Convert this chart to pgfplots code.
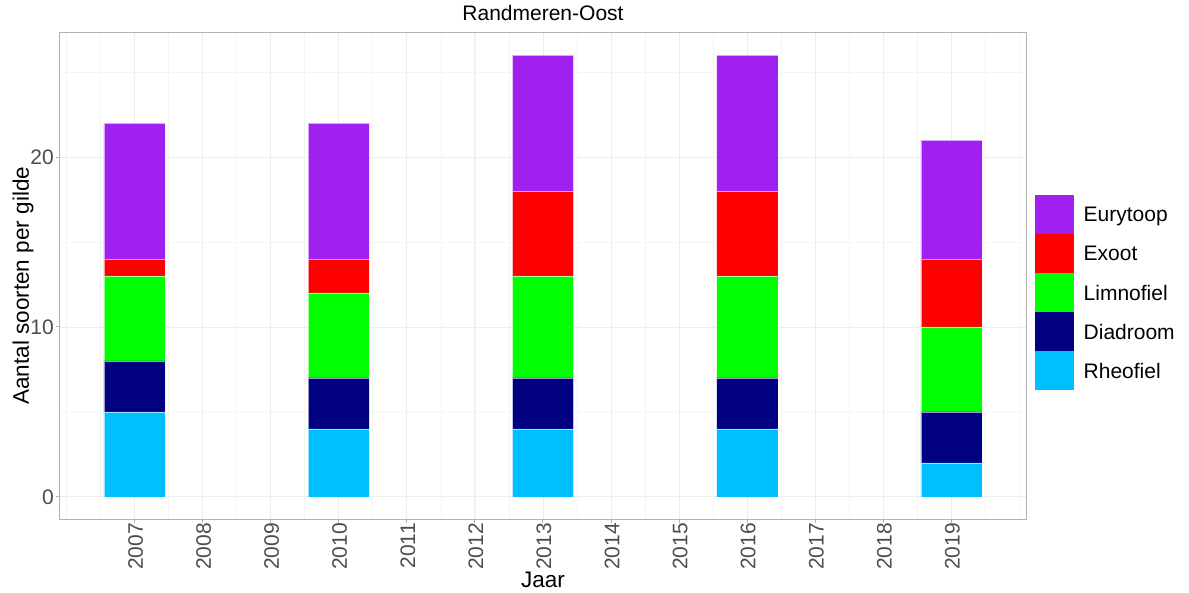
\documentclass[border=0pt]{standalone}
\usepackage{pgfplots}
\pgfplotsset{compat=1.18}
\usepackage{fontspec}
\setmainfont{Liberation Sans}

\definecolor{eury}{HTML}{A020F0}
\definecolor{exoot}{HTML}{FF0000}
\definecolor{limno}{HTML}{00FF00}
\definecolor{diad}{HTML}{000080}
\definecolor{rheo}{HTML}{00BFFF}

\begin{document}
\begin{tikzpicture}
\path[use as bounding box] (-60pt,-73pt) rectangle (1129pt,519pt);
\begin{axis}[
    scale only axis,
    width=966pt, height=486pt,
    ybar stacked, bar width=0.9, bar shift=0pt,
    xmin=2005.905, xmax=2020.095,
    ymin=-1.3, ymax=27.3,
    xtick={2007,2008,...,2019},
    ytick={0,10,20},
    minor xtick={2006,2006.5,...,2020},
    minor ytick={5,15,25},
    grid=both,
    major grid style={color=black!7, line width=0.9pt},
    minor grid style={color=black!4, line width=0.6pt},
    axis line style={black!30, line width=1pt},
    tick align=outside,
    xtick pos=bottom, ytick pos=left,
    major tick length=4pt, minor tick length=0pt,
    tick style={black!30, line width=1pt},
    /pgf/number format/.cd, 1000 sep={}, assume math mode=true, /pgfplots/.cd,
    ticklabel style={font=\fontsize{21}{21}\selectfont, text=black!70},
    xticklabel style={rotate=90, anchor=east, inner sep=0pt, yshift=-1pt},
    yticklabel style={anchor=east, inner sep=0pt, xshift=-2pt},
    title={Randmeren-Oost},
    title style={font=\fontsize{21}{21}\selectfont, at={(axis description cs:0.5,1)}, anchor=base, yshift=6pt},
    xlabel={Jaar},
    xlabel style={font=\fontsize{22.5}{22.5}\selectfont, at={(axis description cs:0.5,0)}, anchor=base, yshift=-68pt},
    ylabel={Aantal soorten per gilde},
    ylabel style={font=\fontsize{22.5}{22.5}\selectfont, at={(axis description cs:0,0.48)}, anchor=base, yshift=31pt},
    every axis plot/.append style={draw=white, draw opacity=0.6, line width=0.5pt},
    legend image code/.code={\fill[#1,draw=none] (0pt,-19.5pt) rectangle (39pt,19.5pt);},
    reverse legend,
    legend style={draw=none, fill=none, at={(axis description cs:1.00932,0.6667)}, anchor=north west,
        inner sep=0pt, row sep=0pt, column sep=9.5pt, cells={anchor=west},
        nodes={inner sep=0pt, text depth=0pt, font=\fontsize{21}{21}\selectfont}},
]
\addplot[fill=rheo] coordinates {(2007,5) (2010,4) (2013,4) (2016,4) (2019,2)};
\addlegendentry{Rheofiel}
\addplot[fill=diad] coordinates {(2007,3) (2010,3) (2013,3) (2016,3) (2019,3)};
\addlegendentry{Diadroom}
\addplot[fill=limno] coordinates {(2007,5) (2010,5) (2013,6) (2016,6) (2019,5)};
\addlegendentry{Limnofiel}
\addplot[fill=exoot] coordinates {(2007,1) (2010,2) (2013,5) (2016,5) (2019,4)};
\addlegendentry{Exoot}
\addplot[fill=eury] coordinates {(2007,8) (2010,8) (2013,8) (2016,8) (2019,7)};
\addlegendentry{Eurytoop}
\node[anchor=base west, inner sep=0pt, font=\fontsize{21}{21}\selectfont] at (axis description cs:1.0104,0.694) {Gilde};
\end{axis}
\end{tikzpicture}
\end{document}
